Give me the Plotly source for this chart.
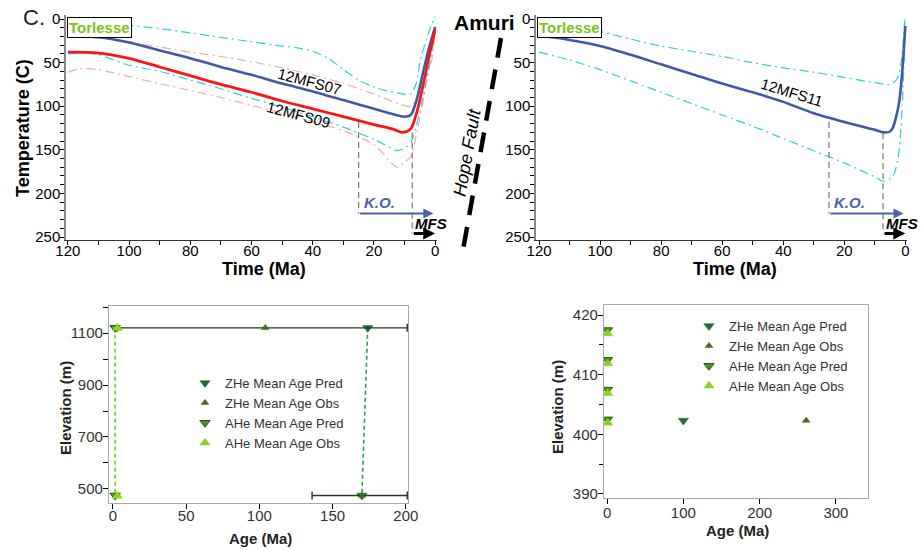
import plotly.graph_objects as go

W, H = 921, 550
FONT = "Liberation Sans, Arial, sans-serif"

# ---------------- data: top-left thermal histories ----------------
s07_age = [120, 110, 100, 90, 80, 70, 60, 50, 40, 30, 20, 14, 10, 8, 6, 4, 2, 0]
s07_temp = [19, 21, 27, 36, 45, 55, 64, 74, 83, 93, 103, 109, 112, 110, 92, 62, 33, 9]

s09_age = [120, 110, 100, 90, 80, 70, 60, 50, 40, 30, 20, 14, 10.5, 8, 6, 4, 2, 0]
s09_temp = [38, 39, 45, 55, 65, 75, 84, 94, 103, 112, 121, 126, 130, 126, 107, 77, 43, 12]

tl_cyan_hi_age = [120, 110, 100, 90, 80, 70, 60, 50, 45, 40, 35, 30, 25, 20, 15, 12, 8, 6, 5, 3, 1, 0]
tl_cyan_hi_temp = [2, 3, 7, 11, 16, 21, 26, 31, 33, 37, 45, 58, 70, 78, 83, 85, 86, 72, 50, 25, 5, -3]

tl_cyan_lo_age = [120, 115, 110, 100, 90, 80, 70, 60, 50, 40, 30, 20, 15, 12.4, 10, 8, 6, 4, 1.6, 0]
tl_cyan_lo_temp = [40, 39, 41, 53, 60, 70, 80, 91, 101, 112, 124, 138, 147, 151, 148, 142, 120, 90, 47, 10]

tl_pink_hi_age = [120, 110, 100, 90, 80, 70, 60, 50, 40, 30, 20, 12, 8, 6, 4, 2, 1, 0]
tl_pink_hi_temp = [20, 21, 26, 32, 38, 43, 49, 56, 64, 74, 86, 97, 100, 90, 75, 58, 45, 15]

tl_pink_lo_age = [120, 116, 110, 100, 90, 80, 70, 60, 50, 40, 30, 20, 12.4, 10, 8, 6, 4, 1.5, 0]
tl_pink_lo_temp = [61, 57, 58, 66, 74, 82, 90, 99, 108, 118, 128, 144, 170, 164, 158, 130, 95, 47, 15]

# ---------------- data: top-right thermal history ----------------
s11_age = [120, 110, 100, 90, 80, 70, 60, 50, 40, 30, 20, 10, 7, 5, 4, 3, 2, 1, 0]
s11_temp = [19, 24, 31, 41, 52, 63, 74, 84, 95, 108, 118, 127, 130, 129, 124, 112, 95, 60, 8]

tr_cyan_hi_age = [120, 110, 100, 90, 80, 70, 60, 50, 40, 30, 20, 10, 5, 3, 2, 1, 0.5, 0]
tr_cyan_hi_temp = [1, 3, 14, 23, 31, 37, 43, 50, 56, 61, 67, 73, 75, 70, 62, 40, 15, -3]

tr_cyan_lo_age = [120, 110, 100, 90, 80, 70, 60, 50, 40, 30, 20, 10, 7.3, 5, 4, 3, 2, 1, 0]
tr_cyan_lo_temp = [38, 47, 58, 71, 84, 97, 110, 123, 137, 151, 165, 181, 186, 183, 180, 170, 150, 100, 5]

# events (Ma) and annotation levels (C)
ko_start_left, mfs_start_left = 25, 7.5
ko_start_right, mfs_start_right = 25, 7.3
ko_temp, mfs_temp = 223, 246
ko_end, mfs_end = 0.6, 0.0

# ---------------- data: bottom-left age-elevation ----------------
bl_zhe_pred_age = [174, 170]
bl_zhe_pred_elev = [1120, 475]
bl_zhe_obs_age = [104, 170]
bl_zhe_obs_elev = [1120, 475]
bl_zhe_obs_err_minus = [101, 34]
bl_zhe_obs_err_plus = [97, 31]
bl_ahe_pred_age = [1.5, 1.5]
bl_ahe_pred_elev = [1120, 475]
bl_ahe_obs_age = [3, 3]
bl_ahe_obs_elev = [1118, 473]

# ---------------- data: bottom-right age-elevation ----------------
br_zhe_pred_age = [100]
br_zhe_pred_elev = [402.3]
br_zhe_obs_age = [261]
br_zhe_obs_elev = [402.3]
br_ahe_pred_age = [0.5, 0.5, 0.5, 0.5]
br_ahe_pred_elev = [417.5, 412.5, 407.5, 402.5]
br_ahe_obs_age = [0.8, 0.8, 0.8, 0.8]
br_ahe_obs_elev = [416.9, 411.9, 406.9, 401.9]

legend_names = ["ZHe Mean Age Pred", "ZHe Mean Age Obs", "AHe Mean Age Pred", "AHe Mean Age Obs"]

# ---------------- styles ----------------
BLUE = "#4158a8"
RED = "#ff1414"
CYAN = "#2ccdf2"
PINK = "#f8a9a0"
GREEN_TXT = "#7cc21d"
C_ZP = "#1f6d34"
C_ZO = "#4a6b1f"
C_AP = "#45941e"
C_AO = "#8fd11e"
DASHDOT = "9px,4px,2px,4px"


def px(x):
    return x / W


def py(y):
    return 1 - y / H


fig = go.Figure()


def curve(x, y, color, width, dash, xa, ya):
    fig.add_trace(go.Scatter(
        x=x, y=y, mode="lines", xaxis=xa, yaxis=ya, showlegend=False,
        line=dict(color=color, width=width, dash=dash, shape="spline", smoothing=0.8),
        hoverinfo="skip"))


# top-left
curve(tl_pink_hi_age, tl_pink_hi_temp, PINK, 1.2, DASHDOT, "x", "y")
curve(tl_pink_lo_age, tl_pink_lo_temp, PINK, 1.2, DASHDOT, "x", "y")
curve(tl_cyan_hi_age, tl_cyan_hi_temp, CYAN, 1.2, DASHDOT, "x", "y")
curve(tl_cyan_lo_age, tl_cyan_lo_temp, CYAN, 1.2, DASHDOT, "x", "y")
curve(s07_age, s07_temp, BLUE, 2.6, "solid", "x", "y")
curve(s09_age, s09_temp, RED, 2.8, "solid", "x", "y")
# top-right
curve(tr_cyan_hi_age, tr_cyan_hi_temp, CYAN, 1.2, DASHDOT, "x2", "y2")
curve(tr_cyan_lo_age, tr_cyan_lo_temp, CYAN, 1.2, DASHDOT, "x2", "y2")
curve(s11_age, s11_temp, BLUE, 2.6, "solid", "x2", "y2")

# bottom-left dashed connectors
fig.add_trace(go.Scatter(x=bl_ahe_pred_age, y=bl_ahe_pred_elev, mode="lines", xaxis="x3", yaxis="y3",
                         showlegend=False, line=dict(color="#63d22b", width=1.6, dash="4px,3px"), hoverinfo="skip"))
fig.add_trace(go.Scatter(x=bl_zhe_pred_age, y=bl_zhe_pred_elev, mode="lines", xaxis="x3", yaxis="y3",
                         showlegend=False, line=dict(color="#2a9d4a", width=1.6, dash="4px,3px"), hoverinfo="skip"))


def points(xs, ys, name, color, symbol, size, xa, ya, legend, lw=0.5, lc=None, err=None):
    fig.add_trace(go.Scatter(
        x=xs, y=ys, mode="markers", name=name, xaxis=xa, yaxis=ya, legend=legend,
        marker=dict(symbol=symbol, size=size, color=color,
                    line=dict(color=lc or color, width=lw)),
        error_x=err))


err = dict(type="data", symmetric=False, array=bl_zhe_obs_err_plus, arrayminus=bl_zhe_obs_err_minus,
           color="#1d3f1d", thickness=1.4, width=4)
points(bl_zhe_pred_age, bl_zhe_pred_elev, legend_names[0], C_ZP, "triangle-down", 9, "x3", "y3", "legend")
points(bl_zhe_obs_age, bl_zhe_obs_elev, legend_names[1], C_ZO, "triangle-up", 7, "x3", "y3", "legend", err=err)
points(bl_ahe_pred_age, bl_ahe_pred_elev, legend_names[2], C_AP, "triangle-down", 9, "x3", "y3", "legend", 1, "#2c5a16")
points(bl_ahe_obs_age, bl_ahe_obs_elev, legend_names[3], C_AO, "triangle-up", 9, "x3", "y3", "legend")

points(br_zhe_pred_age, br_zhe_pred_elev, legend_names[0], C_ZP, "triangle-down", 9, "x4", "y4", "legend2")
points(br_zhe_obs_age, br_zhe_obs_elev, legend_names[1], C_ZO, "triangle-up", 7, "x4", "y4", "legend2")
points(br_ahe_pred_age, br_ahe_pred_elev, legend_names[2], C_AP, "triangle-down", 9, "x4", "y4", "legend2", 1, "#2c5a16")
points(br_ahe_obs_age, br_ahe_obs_elev, legend_names[3], C_AO, "triangle-up", 9, "x4", "y4", "legend2")

# ---------------- axes ----------------
top_x = dict(showgrid=False, zeroline=False, showline=True, linecolor="#333", linewidth=1, automargin=False,
             ticks="outside", ticklen=4, tickcolor="black", dtick=20, tick0=0, ticklabelstandoff=-7,
             minor=dict(dtick=10, ticks="outside", ticklen=4, tickcolor="black", showgrid=False),
             tickfont=dict(size=15, color="black", family=FONT))
top_y = dict(showgrid=False, zeroline=False, showline=True, linecolor="#888", linewidth=1.5, automargin=False,
             ticks="outside", ticklen=4, tickcolor="black", dtick=50, tick0=0, ticklabelstandoff=-3,
             minor=dict(dtick=10, ticks="outside", ticklen=4, tickcolor="black", showgrid=False),
             tickfont=dict(size=15, color="black", family=FONT))
bot = dict(showgrid=False, zeroline=False, showline=True, linecolor="#aaa", linewidth=1.2, mirror=True,
           automargin=False, ticks="outside", ticklen=5, tickcolor="black",
           tickfont=dict(size=15, color="#333", family=FONT))

fig.update_layout(
    xaxis=dict(domain=[px(66), px(437)], range=[120.6, -0.6], anchor="y", **top_x),
    yaxis=dict(domain=[py(240), py(15)], range=[253.4, -4.6], anchor="x", **top_y),
    xaxis2=dict(domain=[px(536), px(907)], range=[121, -0.55], anchor="y2", **top_x),
    yaxis2=dict(domain=[py(240), py(15)], range=[253.4, -4.6], anchor="x2", **top_y),
    xaxis3=dict(domain=[px(109), px(408)], range=[-2.7, 201.5], anchor="y3", dtick=50, tick0=0,
                ticklabelstandoff=-6, **bot),
    yaxis3=dict(domain=[py(503), py(306)], range=[446, 1204], anchor="x3", tickvals=[500, 700, 900, 1100],
                ticklabelstandoff=-3,
                minor=dict(tickvals=[600, 800, 1000, 1200], ticks="outside", ticklen=5, tickcolor="black",
                           showgrid=False), **bot),
    xaxis4=dict(domain=[px(604), px(868)], range=[-4, 342], anchor="y4", dtick=100, tick0=0,
                ticklabelstandoff=-4, **bot),
    yaxis4=dict(domain=[py(498), py(305)], range=[389.3, 421.7], anchor="x4", dtick=10, tick0=390,
                ticklabelstandoff=-3,
                minor=dict(dtick=5, ticks="outside", ticklen=4, tickcolor="black", showgrid=False), **bot),
)

leg_common = dict(font=dict(size=13, color="#333", family=FONT), bgcolor="rgba(0,0,0,0)",
                  tracegroupgap=0, itemwidth=30, xanchor="left", yanchor="top", itemclick=False)
fig.update_layout(
    legend=dict(x=px(185), y=py(368), **leg_common),
    legend2=dict(x=px(689), y=py(311), **leg_common),
)

# ---------------- shapes ----------------
shapes = []
for xa, ya, ko, mfs, ko_top, mfs_top in [("x", "y", ko_start_left, mfs_start_left, 118, 130),
                                          ("x2", "y2", ko_start_right, mfs_start_right, 118, 131)]:
    shapes.append(dict(type="line", xref=xa, yref=ya, x0=ko, x1=ko, y0=ko_top, y1=ko_temp,
                       line=dict(color="#777", width=1.2, dash="6px,4px")))
    shapes.append(dict(type="line", xref=xa, yref=ya, x0=mfs, x1=mfs, y0=mfs_top, y1=mfs_temp,
                       line=dict(color="#777", width=1.2, dash="6px,4px")))
shapes.append(dict(type="line", xref="paper", yref="paper", x0=px(501), y0=py(38), x1=px(463), y1=py(250),
                   line=dict(color="black", width=4.5, dash="20px,12px")))
fig.update_layout(shapes=shapes)

# ---------------- annotations ----------------
ann = []


def text(x, y, t, size, color="black", xref="paper", yref="paper", angle=0, xanchor="center", **kw):
    ann.append(dict(x=x, y=y, xref=xref, yref=yref, text=t, showarrow=False, textangle=angle,
                    xanchor=xanchor, yanchor="middle", font=dict(size=size, color=color, family=FONT), **kw))


for xa, ya, ko, mfs in [("x", "y", ko_start_left, mfs_start_left), ("x2", "y2", ko_start_right, mfs_start_right)]:
    ann.append(dict(x=ko_end, y=ko_temp, ax=ko, ay=ko_temp, xref=xa, yref=ya, axref=xa, ayref=ya,
                    text="", showarrow=True, arrowhead=2, arrowsize=1, arrowwidth=2, arrowcolor="#4a62b0",
                    standoff=0, startstandoff=0))
    ann.append(dict(x=mfs_end, y=mfs_temp, ax=mfs, ay=mfs_temp, xref=xa, yref=ya, axref=xa, ayref=ya,
                    text="", showarrow=True, arrowhead=2, arrowsize=0.8, arrowwidth=3, arrowcolor="black",
                    standoff=0, startstandoff=0))
    text(ko - 1, 210, "<b><i>K.O.</i></b>", 15, "#4a62b0", xa, ya, xanchor="left")
    text(mfs - 0.3, 234, "<b><i>MFS</i></b>", 15, "black", xa, ya, xanchor="left")

text(40.9, 72, "12MFS07", 15, "black", "x", "y", angle=15)
text(44.8, 110, "12MFS09", 15, "black", "x", "y", angle=15)
text(37.1, 84, "12MFS11", 15, "black", "x2", "y2", angle=17)

for x0 in (66, 536):
    ann.append(dict(x=px(x0 + 1), y=py(17), xref="paper", yref="paper", xanchor="left", yanchor="top",
                    text="<b>Torlesse</b>", showarrow=False, bordercolor="black", borderwidth=1,
                    borderpad=1, bgcolor="white", font=dict(size=15, color=GREEN_TXT, family=FONT)))

text(px(34), py(18), "C.", 22, "#222")
text(px(484), py(22), "<b>Amuri</b>", 21, "black")
text(px(467), py(153), "<i>Hope Fault</i>", 18, "black", angle=-80)

text(px(23), py(128), "<b>Temperature (C)</b>", 18, "black", angle=-90)
text(px(264), py(269), "<b>Time (Ma)</b>", 18, "black")
text(px(735), py(269), "<b>Time (Ma)</b>", 18, "black")
text(px(65), py(408), "<b>Elevation (m)</b>", 15, "#222", angle=-90)
text(px(260), py(538), "<b>Age (Ma)</b>", 15, "#222")
text(px(557), py(407), "<b>Elevation (m)</b>", 15, "#222", angle=-90)
text(px(737), py(530), "<b>Age (Ma)</b>", 15, "#222")

fig.update_layout(annotations=ann)

fig.update_layout(
    template="none",
    width=W, height=H, margin=dict(l=0, r=0, t=0, b=0, autoexpand=False),
    paper_bgcolor="white", plot_bgcolor="white",
    font=dict(family=FONT, color="black"),
)

fig.write_html("out.html", config={"displayModeBar": False},
               post_script="document.body.style.margin='0';document.body.style.overflow='hidden';")
